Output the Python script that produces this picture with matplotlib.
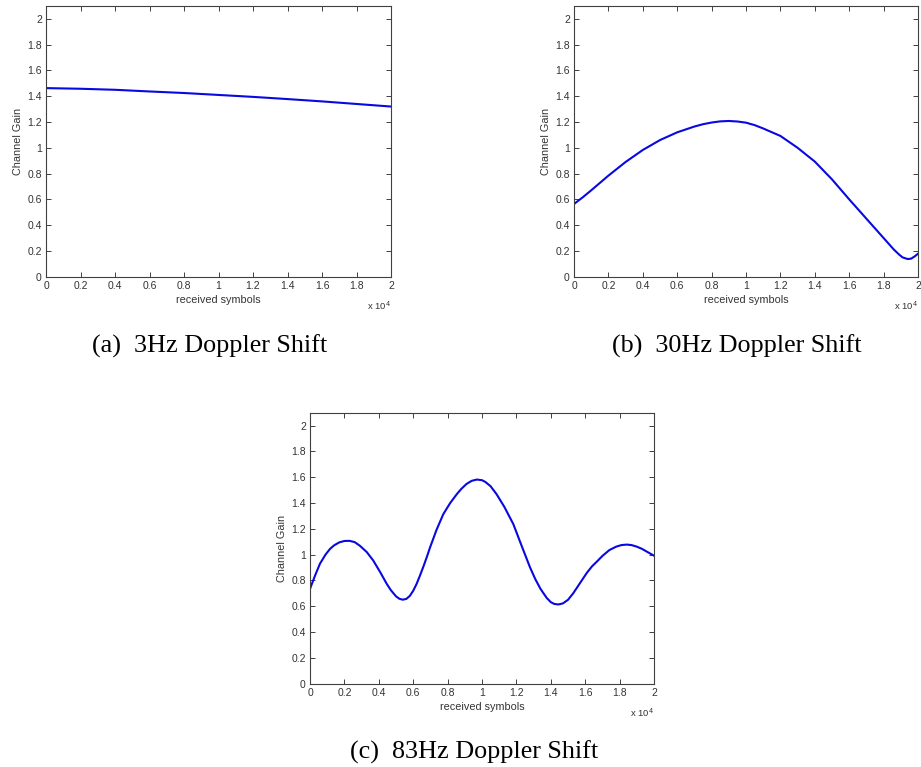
import matplotlib
matplotlib.use("Agg")
import matplotlib.pyplot as plt
import numpy as np

# received symbols (x 10^4) and channel gain values
x_a = [0, 0.2, 0.4, 0.6, 0.8, 1.0, 1.2, 1.4, 1.6, 1.8, 2.0]
g_a = [1.463, 1.458, 1.450, 1.437, 1.425, 1.410, 1.395, 1.378, 1.360, 1.340, 1.320]

x_b = [0, 0.05, 0.1, 0.15, 0.2, 0.3, 0.4, 0.5, 0.6, 0.7, 0.75, 0.8, 0.85, 0.9,
       0.95, 1.0, 1.05, 1.1, 1.2, 1.3, 1.4, 1.5, 1.6, 1.7, 1.8, 1.83, 1.86, 1.89,
       1.91, 1.94, 1.96, 1.98, 2.0]
g_b = [0.564, 0.615, 0.67, 0.727, 0.784, 0.89, 0.983, 1.06, 1.12, 1.165, 1.183,
       1.196, 1.205, 1.208, 1.204, 1.195, 1.176, 1.15, 1.092, 1.0, 0.893, 0.755,
       0.60, 0.45, 0.30, 0.255, 0.21, 0.172, 0.15, 0.137, 0.14, 0.157, 0.178]

x_c = [0, 0.03, 0.058, 0.09, 0.116, 0.14, 0.17, 0.2, 0.23, 0.26, 0.29, 0.33,
       0.368, 0.41, 0.446, 0.47, 0.5, 0.52, 0.539, 0.56, 0.58, 0.60, 0.62, 0.64,
       0.66, 0.68, 0.698, 0.735, 0.775, 0.815, 0.853, 0.88, 0.91, 0.94, 0.97,
       1.0, 1.02, 1.05, 1.085, 1.13, 1.182, 1.23, 1.279, 1.31, 1.34, 1.376, 1.40,
       1.42, 1.444, 1.47, 1.50, 1.53, 1.55, 1.58, 1.61, 1.64, 1.667, 1.70, 1.74,
       1.78, 1.81, 1.842, 1.87, 1.90, 1.93, 1.96, 2.0]
g_c = [0.735, 0.84, 0.93, 1.00, 1.044, 1.072, 1.095, 1.106, 1.107, 1.097, 1.069,
       1.02, 0.954, 0.86, 0.774, 0.725, 0.677, 0.658, 0.651, 0.657, 0.68, 0.72,
       0.774, 0.84, 0.91, 0.985, 1.056, 1.19, 1.314, 1.40, 1.468, 1.51, 1.548,
       1.572, 1.582, 1.577, 1.563, 1.53, 1.468, 1.37, 1.237, 1.07, 0.902, 0.81,
       0.735, 0.665, 0.632, 0.618, 0.614, 0.622, 0.650, 0.70, 0.74, 0.80, 0.86,
       0.91, 0.945, 0.99, 1.035, 1.062, 1.074, 1.078, 1.074, 1.062, 1.045, 1.022,
       0.992]

x_ticks = [0, 0.2, 0.4, 0.6, 0.8, 1, 1.2, 1.4, 1.6, 1.8, 2]
y_ticks = [0, 0.2, 0.4, 0.6, 0.8, 1, 1.2, 1.4, 1.6, 1.8, 2]
captions = ["(a)  3Hz Doppler Shift", "(b)  30Hz Doppler Shift", "(c)  83Hz Doppler Shift"]

W, H = 921, 767
fig = plt.figure(figsize=(W / 100, H / 100), dpi=100)

txt_col = "#333333"
ax_col = "#404040"
sans = ["Liberation Sans", "DejaVu Sans"]
serif = ["Liberation Serif", "DejaVu Serif"]


def fbox(left, top, right, bottom):
    return [left / W, 1 - bottom / H, (right - left) / W, (bottom - top) / H]


def make_ax(rect, x, y):
    ax = fig.add_axes(rect)
    ax.plot(np.array(x) * 1e4, y, color="#0808e0", lw=1.5, solid_joinstyle="round")
    ax.set_xlim(0, 2e4)
    ax.set_ylim(0, 2.1)
    ax.set_xticks([t * 1e4 for t in x_ticks])
    ax.set_xticklabels([f"{t:g}" for t in x_ticks])
    ax.set_yticks(y_ticks)
    ax.set_yticklabels([f"{t:g}" for t in y_ticks])
    ax.tick_params(direction="in", length=3.5, width=0.7, top=True, right=True,
                   labelsize=7.5, colors=ax_col, labelcolor=txt_col, pad=3)
    for lab in ax.get_xticklabels() + ax.get_yticklabels():
        lab.set_family(sans)
    for s in ax.spines.values():
        s.set_color(ax_col)
        s.set_linewidth(0.8)
    ax.set_xlabel("received symbols", fontsize=7.8, color=txt_col, family=sans, labelpad=3)
    ax.set_ylabel("Channel Gain", fontsize=7.8, color=txt_col, family=sans, labelpad=3)
    ax.text(1.0, -0.085, r"x 10$^4$", transform=ax.transAxes, ha="right", va="top",
            fontsize=6.8, color=txt_col, family=sans)
    return ax


make_ax(fbox(46, 6, 391, 276.7), x_a, g_a)
make_ax(fbox(574, 6, 918, 276.7), x_b, g_b)
make_ax(fbox(310, 412.7, 654, 683.7), x_c, g_c)

fig.text(210 / W, 1 - 352.3 / H, captions[0], ha="center", va="baseline",
         fontsize=18.8, family=serif, color="black")
fig.text(737 / W, 1 - 352.3 / H, captions[1], ha="center", va="baseline",
         fontsize=18.8, family=serif, color="black")
fig.text(474 / W, 1 - 758.3 / H, captions[2], ha="center", va="baseline",
         fontsize=18.8, family=serif, color="black")

fig.savefig("out.png", dpi=100)
